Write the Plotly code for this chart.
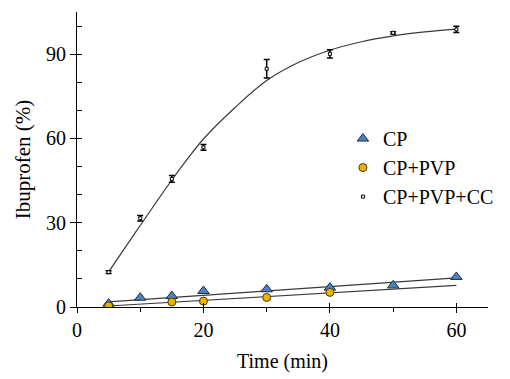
import plotly.graph_objects as go

# ---- data ----
time_cp = [5, 10, 15, 20, 30, 40, 50, 60]
cp_vals = [1.2, 3.3, 3.9, 5.7, 6.3, 6.9, 7.7, 10.7]

time_pvp = [5, 15, 20, 30, 40]
pvp_vals = [0.4, 1.8, 2.1, 3.4, 5.2]

time_cc = [5, 10, 15, 20, 30, 40, 50, 60]
cc_vals = [12.4, 31.6, 45.6, 56.8, 84.8, 90.1, 97.6, 98.8]
cc_err = [0.5, 1.0, 1.2, 1.0, 3.3, 1.5, 0.4, 1.1]

# fitted trend lines
fit_cc_t = [5, 7.5, 10, 12.5, 15, 17.5, 20, 25, 30, 35, 40, 45, 50, 55, 60]
fit_cc_y = [12.5, 20.8, 29.0, 37.2, 45.2, 52.8, 59.8, 71.0, 80.6, 87.0, 91.4, 94.4, 96.5, 97.9, 98.9]
fit_cp_t = [5, 60]
fit_cp_y = [1.8, 10.4]
fit_pvp_t = [5, 60]
fit_pvp_y = [0.35, 7.7]

x_ticks = [0, 20, 40, 60]
y_ticks = [0, 30, 60, 90]

FONT = "'Times New Roman', 'Liberation Serif', 'DejaVu Serif', serif"

fig = go.Figure()

line_style = dict(color="#3a3a3a", width=1.2)
fig.add_trace(go.Scatter(x=fit_cc_t, y=fit_cc_y, mode="lines", line=dict(shape="spline", **line_style),
                         showlegend=False, hoverinfo="skip"))
fig.add_trace(go.Scatter(x=fit_cp_t, y=fit_cp_y, mode="lines", line=line_style,
                         showlegend=False, hoverinfo="skip"))
fig.add_trace(go.Scatter(x=fit_pvp_t, y=fit_pvp_y, mode="lines", line=line_style,
                         showlegend=False, hoverinfo="skip"))

fig.add_trace(go.Scatter(x=time_cp, y=cp_vals, mode="markers", name="CP",
                         marker=dict(symbol="triangle-up", size=10, color="#4F81BD",
                                     line=dict(color="#1c2e45", width=1))))
fig.add_trace(go.Scatter(x=time_pvp, y=pvp_vals, mode="markers", name="CP+PVP",
                         marker=dict(symbol="circle", size=8, color="#EDB100",
                                     line=dict(color="#4a3b00", width=1))))
fig.add_trace(go.Scatter(x=time_cc, y=cc_vals, mode="markers", name="CP+PVP+CC",
                         marker=dict(symbol="square", size=3, color="white",
                                     line=dict(color="black", width=1)),
                         error_y=dict(type="data", array=cc_err, visible=True,
                                      color="black", thickness=1.5, width=3)))

# overlay axes to produce crossing ticks
fig.add_trace(go.Scatter(x=[None], y=[None], xaxis="x2", yaxis="y2",
                         showlegend=False, hoverinfo="skip"))

axis_font = dict(family=FONT, size=20, color="black")
fig.update_layout(
    width=510, height=379,
    margin=dict(l=77, r=22, t=12, b=72, autoexpand=False),
    paper_bgcolor="white", plot_bgcolor="white",
    font=dict(family=FONT, size=20, color="black"),
    xaxis=dict(range=[0, 65], tickvals=x_ticks, ticks="outside", ticklen=5,
               tickwidth=1, tickcolor="black", automargin=False,
               minor=dict(tickvals=[10, 30, 50], ticks="outside", ticklen=4, tickcolor="black"),
               showline=True, linecolor="black", linewidth=1, showgrid=False, zeroline=False,
               tickfont=axis_font,
               title=dict(text="Time (min)", font=axis_font, standoff=13)),
    yaxis=dict(range=[0, 105], tickvals=y_ticks, ticks="outside", ticklen=6,
               tickwidth=1, tickcolor="black", automargin=False,
               showline=True, linecolor="black", linewidth=1, showgrid=False, zeroline=False,
               tickfont=axis_font,
               title=dict(text="Ibuprofen (%)", font=dict(family=FONT, size=21, color="black"),
                          standoff=9)),
    xaxis2=dict(overlaying="x", range=[0, 65], tickvals=x_ticks, ticks="inside",
                ticklen=4, tickcolor="black", showticklabels=False, showline=False,
                showgrid=False, zeroline=False, side="bottom"),
    yaxis2=dict(overlaying="y", range=[0, 105], tickvals=[0, 10, 20, 30, 40, 50, 60, 70, 80, 90, 100],
                ticks="inside", ticklen=5, tickcolor="black", showticklabels=False,
                showline=False, showgrid=False, zeroline=False, side="left"),
    legend=dict(x=0.647, y=0.637, xanchor="left", yanchor="top", bgcolor="rgba(0,0,0,0)",
                font=axis_font, tracegroupgap=0),
    showlegend=True,
)

fig.write_html(
    "out.html",
    post_script=(
        "document.body.style.margin='0px';"
        "document.querySelectorAll('.modebar-container').forEach(function(e){e.style.display='none';});"
    ),
)
